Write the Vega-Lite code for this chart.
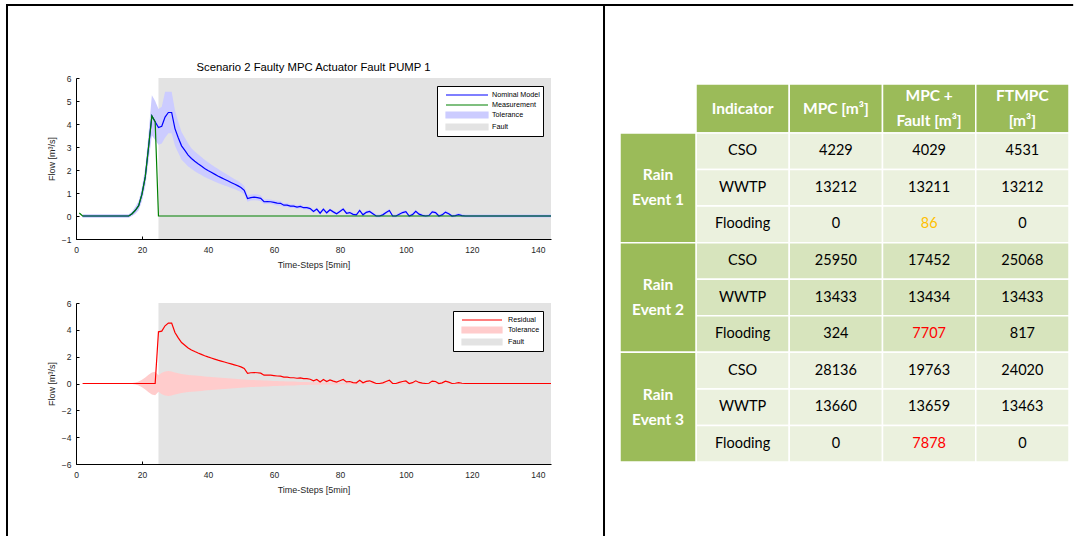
{
"$schema": "https://vega.github.io/schema/vega-lite/v6.json",
"padding": {"left": 5, "top": 3, "right": 0, "bottom": 0},
"background": "white",
"bounds": "flush",
"columns": 2,
"spacing": {"row": 64, "column": 69},
"datasets": {
"fault": [{"start": 25, "end": 144}],
"series": [
{"t":1,"meas":0.13},
{"t":2,"nom":0,"meas":0,"lo":-0.08,"hi":0.08,"res":0,"rlo":0,"rhi":0},
{"t":3,"nom":0,"meas":0,"lo":-0.08,"hi":0.08,"res":0,"rlo":0,"rhi":0},
{"t":4,"nom":0,"meas":0,"lo":-0.08,"hi":0.08,"res":0,"rlo":0,"rhi":0},
{"t":5,"nom":0,"meas":0,"lo":-0.08,"hi":0.08,"res":0,"rlo":0,"rhi":0},
{"t":6,"nom":0,"meas":0,"lo":-0.08,"hi":0.08,"res":0,"rlo":0,"rhi":0},
{"t":7,"nom":0,"meas":0,"lo":-0.08,"hi":0.08,"res":0,"rlo":0,"rhi":0},
{"t":8,"nom":0,"meas":0,"lo":-0.08,"hi":0.08,"res":0,"rlo":0,"rhi":0},
{"t":9,"nom":0,"meas":0,"lo":-0.08,"hi":0.08,"res":0,"rlo":0,"rhi":0},
{"t":10,"nom":0,"meas":0,"lo":-0.08,"hi":0.08,"res":0,"rlo":0,"rhi":0},
{"t":11,"nom":0,"meas":0,"lo":-0.08,"hi":0.08,"res":0,"rlo":0,"rhi":0},
{"t":12,"nom":0,"meas":0,"lo":-0.08,"hi":0.08,"res":0,"rlo":0,"rhi":0},
{"t":13,"nom":0,"meas":0,"lo":-0.08,"hi":0.08,"res":0,"rlo":0,"rhi":0},
{"t":14,"nom":0,"meas":0,"lo":-0.08,"hi":0.08,"res":0,"rlo":0,"rhi":0},
{"t":15,"nom":0,"meas":0,"lo":-0.08,"hi":0.08,"res":0,"rlo":0,"rhi":0},
{"t":16,"nom":0,"meas":0,"lo":-0.08,"hi":0.08,"res":0,"rlo":0,"rhi":0},
{"t":17,"nom":0.1,"meas":0.1,"lo":0,"hi":0.2,"res":0,"rlo":-0.03,"rhi":0.03},
{"t":18,"nom":0.25,"meas":0.25,"lo":0.1,"hi":0.4,"res":0,"rlo":-0.08,"rhi":0.08},
{"t":19,"nom":0.45,"meas":0.45,"lo":0.25,"hi":0.65,"res":0,"rlo":-0.15,"rhi":0.15},
{"t":20,"nom":0.95,"meas":0.95,"lo":0.65,"hi":1.25,"res":0,"rlo":-0.28,"rhi":0.28},
{"t":21,"nom":1.7,"meas":1.7,"lo":1.3,"hi":2.1,"res":0,"rlo":-0.45,"rhi":0.45},
{"t":22,"nom":3.0,"meas":3.0,"lo":2.4,"hi":3.6,"res":0,"rlo":-0.65,"rhi":0.65},
{"t":23,"nom":4.35,"meas":4.35,"lo":3.5,"hi":5.25,"res":0,"rlo":-0.82,"rhi":0.82},
{"t":24,"nom":4.1,"meas":4.1,"lo":3.3,"hi":5.0,"res":0,"rlo":-0.88,"rhi":0.88},
{"t":25,"nom":3.85,"meas":0,"lo":3.1,"hi":4.65,"res":3.85,"rlo":-0.62,"rhi":0.62},
{"t":26,"nom":3.9,"meas":0,"lo":3.15,"hi":4.75,"res":3.9,"rlo":-0.8,"rhi":0.8},
{"t":27,"nom":4.3,"meas":0,"lo":3.4,"hi":5.4,"res":4.3,"rlo":-0.9,"rhi":0.9},
{"t":28,"nom":4.5,"meas":0,"lo":3.6,"hi":5.4,"res":4.5,"rlo":-0.93,"rhi":0.93},
{"t":29,"nom":4.5,"meas":0,"lo":3.6,"hi":5.4,"res":4.5,"rlo":-0.9,"rhi":0.9},
{"t":30,"nom":3.8,"meas":0,"lo":3.05,"hi":4.6,"res":3.8,"rlo":-0.82,"rhi":0.82},
{"t":31,"nom":3.4,"meas":0,"lo":2.75,"hi":4.1,"res":3.4,"rlo":-0.76,"rhi":0.76},
{"t":32,"nom":3.05,"meas":0,"lo":2.45,"hi":3.65,"res":3.05,"rlo":-0.71,"rhi":0.71},
{"t":33,"nom":2.85,"meas":0,"lo":2.3,"hi":3.4,"res":2.85,"rlo":-0.67,"rhi":0.67},
{"t":34,"nom":2.65,"meas":0,"lo":2.15,"hi":3.15,"res":2.65,"rlo":-0.64,"rhi":0.64},
{"t":35,"nom":2.5,"meas":0,"lo":2.05,"hi":2.95,"res":2.5,"rlo":-0.61,"rhi":0.61},
{"t":36,"nom":2.38,"meas":0,"lo":1.95,"hi":2.8,"res":2.38,"rlo":-0.59,"rhi":0.59},
{"t":37,"nom":2.27,"meas":0,"lo":1.86,"hi":2.68,"res":2.27,"rlo":-0.57,"rhi":0.57},
{"t":38,"nom":2.17,"meas":0,"lo":1.78,"hi":2.56,"res":2.17,"rlo":-0.55,"rhi":0.55},
{"t":39,"nom":2.07,"meas":0,"lo":1.7,"hi":2.45,"res":2.07,"rlo":-0.53,"rhi":0.53},
{"t":40,"nom":1.98,"meas":0,"lo":1.63,"hi":2.34,"res":1.98,"rlo":-0.51,"rhi":0.51},
{"t":41,"nom":1.9,"meas":0,"lo":1.56,"hi":2.24,"res":1.9,"rlo":-0.49,"rhi":0.49},
{"t":42,"nom":1.82,"meas":0,"lo":1.5,"hi":2.14,"res":1.82,"rlo":-0.47,"rhi":0.47},
{"t":43,"nom":1.74,"meas":0,"lo":1.44,"hi":2.05,"res":1.74,"rlo":-0.45,"rhi":0.45},
{"t":44,"nom":1.67,"meas":0,"lo":1.38,"hi":1.96,"res":1.67,"rlo":-0.43,"rhi":0.43},
{"t":45,"nom":1.6,"meas":0,"lo":1.33,"hi":1.87,"res":1.6,"rlo":-0.41,"rhi":0.41},
{"t":46,"nom":1.53,"meas":0,"lo":1.28,"hi":1.78,"res":1.53,"rlo":-0.39,"rhi":0.39},
{"t":47,"nom":1.46,"meas":0,"lo":1.22,"hi":1.7,"res":1.46,"rlo":-0.37,"rhi":0.37},
{"t":48,"nom":1.39,"meas":0,"lo":1.17,"hi":1.61,"res":1.39,"rlo":-0.35,"rhi":0.35},
{"t":49,"nom":1.32,"meas":0,"lo":1.11,"hi":1.53,"res":1.32,"rlo":-0.33,"rhi":0.33},
{"t":50,"nom":1.24,"meas":0,"lo":1.04,"hi":1.44,"res":1.24,"rlo":-0.31,"rhi":0.31},
{"t":51,"nom":1.12,"meas":0,"lo":0.94,"hi":1.3,"res":1.12,"rlo":-0.3,"rhi":0.3},
{"t":52,"nom":0.76,"meas":0,"lo":0.62,"hi":0.9,"res":0.76,"rlo":-0.28,"rhi":0.28},
{"t":53,"nom":0.8,"meas":0,"lo":0.67,"hi":0.93,"res":0.8,"rlo":-0.27,"rhi":0.27},
{"t":54,"nom":0.82,"meas":0,"lo":0.69,"hi":0.95,"res":0.82,"rlo":-0.26,"rhi":0.26},
{"t":55,"nom":0.8,"meas":0,"lo":0.67,"hi":0.93,"res":0.8,"rlo":-0.25,"rhi":0.25},
{"t":56,"nom":0.77,"meas":0,"lo":0.64,"hi":0.9,"res":0.77,"rlo":-0.24,"rhi":0.24},
{"t":57,"nom":0.62,"meas":0,"lo":0.52,"hi":0.72,"res":0.62,"rlo":-0.23,"rhi":0.23},
{"t":58,"nom":0.63,"meas":0,"lo":0.53,"hi":0.73,"res":0.63,"rlo":-0.22,"rhi":0.22},
{"t":59,"nom":0.62,"meas":0,"lo":0.52,"hi":0.72,"res":0.62,"rlo":-0.2,"rhi":0.2},
{"t":60,"nom":0.59,"meas":0,"lo":0.49,"hi":0.69,"res":0.59,"rlo":-0.19,"rhi":0.19},
{"t":61,"nom":0.56,"meas":0,"lo":0.46,"hi":0.66,"res":0.56,"rlo":-0.18,"rhi":0.18},
{"t":62,"nom":0.55,"meas":0,"lo":0.45,"hi":0.65,"res":0.55,"rlo":-0.17,"rhi":0.17},
{"t":63,"nom":0.47,"meas":0,"lo":0.39,"hi":0.55,"res":0.47,"rlo":-0.16,"rhi":0.16},
{"t":64,"nom":0.47,"meas":0,"lo":0.39,"hi":0.55,"res":0.47,"rlo":-0.15,"rhi":0.15},
{"t":65,"nom":0.43,"meas":0,"lo":0.35,"hi":0.51,"res":0.43,"rlo":-0.15,"rhi":0.15},
{"t":66,"nom":0.43,"meas":0,"lo":0.35,"hi":0.51,"res":0.43,"rlo":-0.14,"rhi":0.14},
{"t":67,"nom":0.39,"meas":0,"lo":0.31,"hi":0.47,"res":0.39,"rlo":-0.13,"rhi":0.13},
{"t":68,"nom":0.42,"meas":0,"lo":0.34,"hi":0.5,"res":0.42,"rlo":-0.12,"rhi":0.12},
{"t":69,"nom":0.36,"meas":0,"lo":0.28,"hi":0.44,"res":0.36,"rlo":-0.12,"rhi":0.12},
{"t":70,"nom":0.36,"meas":0,"lo":0.28,"hi":0.44,"res":0.36,"rlo":-0.11,"rhi":0.11},
{"t":71,"nom":0.32,"meas":0,"lo":0.25,"hi":0.39,"res":0.32,"rlo":-0.1,"rhi":0.1},
{"t":72,"nom":0.2,"meas":0,"lo":0.13,"hi":0.27,"res":0.2,"rlo":-0.1,"rhi":0.1},
{"t":73,"nom":0.3,"meas":0,"lo":0.23,"hi":0.37,"res":0.3,"rlo":-0.09,"rhi":0.09},
{"t":74,"nom":0.12,"meas":0,"lo":0.05,"hi":0.19,"res":0.12,"rlo":-0.09,"rhi":0.09},
{"t":75,"nom":0.3,"meas":0,"lo":0.23,"hi":0.37,"res":0.3,"rlo":-0.08,"rhi":0.08},
{"t":76,"nom":0.14,"meas":0,"lo":0.07,"hi":0.21,"res":0.14,"rlo":-0.08,"rhi":0.08},
{"t":77,"nom":0.27,"meas":0,"lo":0.2,"hi":0.34,"res":0.27,"rlo":-0.07,"rhi":0.07},
{"t":78,"nom":0.18,"meas":0,"lo":0.11,"hi":0.25,"res":0.18,"rlo":-0.07,"rhi":0.07},
{"t":79,"nom":0.1,"meas":0,"lo":0.03,"hi":0.17,"res":0.1,"rlo":-0.07,"rhi":0.07},
{"t":80,"nom":0.2,"meas":0,"lo":0.13,"hi":0.27,"res":0.2,"rlo":-0.06,"rhi":0.06},
{"t":81,"nom":0.3,"meas":0,"lo":0.23,"hi":0.37,"res":0.3,"rlo":-0.06,"rhi":0.06},
{"t":82,"nom":0.12,"meas":0,"lo":0.05,"hi":0.19,"res":0.12,"rlo":-0.05,"rhi":0.05},
{"t":83,"nom":0.15,"meas":0,"lo":0.08,"hi":0.22,"res":0.15,"rlo":-0.05,"rhi":0.05},
{"t":84,"nom":0.07,"meas":0,"lo":0,"hi":0.14,"res":0.07,"rlo":-0.05,"rhi":0.05},
{"t":85,"nom":0.05,"meas":0,"lo":-0.02,"hi":0.12,"res":0.05,"rlo":-0.05,"rhi":0.05},
{"t":86,"nom":0.24,"meas":0,"lo":0.17,"hi":0.31,"res":0.24,"rlo":-0.04,"rhi":0.04},
{"t":87,"nom":0.05,"meas":0,"lo":-0.02,"hi":0.12,"res":0.05,"rlo":-0.04,"rhi":0.04},
{"t":88,"nom":0.16,"meas":0,"lo":0.09,"hi":0.23,"res":0.16,"rlo":-0.04,"rhi":0.04},
{"t":89,"nom":0.2,"meas":0,"lo":0.13,"hi":0.27,"res":0.2,"rlo":-0.04,"rhi":0.04},
{"t":90,"nom":0.1,"meas":0,"lo":0.03,"hi":0.17,"res":0.1,"rlo":-0.04,"rhi":0.04},
{"t":91,"nom":0,"meas":0,"lo":-0.07,"hi":0.07,"res":0,"rlo":-0.03,"rhi":0.03},
{"t":92,"nom":0,"meas":0,"lo":-0.07,"hi":0.07,"res":0,"rlo":-0.03,"rhi":0.03},
{"t":93,"nom":0.05,"meas":0,"lo":-0.02,"hi":0.12,"res":0.05,"rlo":-0.03,"rhi":0.03},
{"t":94,"nom":0.15,"meas":0,"lo":0.08,"hi":0.22,"res":0.15,"rlo":-0.03,"rhi":0.03},
{"t":95,"nom":0.24,"meas":0,"lo":0.17,"hi":0.31,"res":0.24,"rlo":-0.03,"rhi":0.03},
{"t":96,"nom":0,"meas":0,"lo":-0.07,"hi":0.07,"res":0,"rlo":-0.03,"rhi":0.03},
{"t":97,"nom":0,"meas":0,"lo":-0.07,"hi":0.07,"res":0,"rlo":-0.03,"rhi":0.03},
{"t":98,"nom":0.08,"meas":0,"lo":0.01,"hi":0.15,"res":0.08,"rlo":-0.03,"rhi":0.03},
{"t":99,"nom":0.15,"meas":0,"lo":0.08,"hi":0.22,"res":0.15,"rlo":-0.03,"rhi":0.03},
{"t":100,"nom":0.19,"meas":0,"lo":0.12,"hi":0.26,"res":0.19,"rlo":-0.03,"rhi":0.03},
{"t":101,"nom":0,"meas":0,"lo":-0.07,"hi":0.07,"res":0,"rlo":-0.02,"rhi":0.02},
{"t":102,"nom":0.06,"meas":0,"lo":-0.01,"hi":0.13,"res":0.06,"rlo":-0.02,"rhi":0.02},
{"t":103,"nom":0.2,"meas":0,"lo":0.13,"hi":0.27,"res":0.2,"rlo":-0.02,"rhi":0.02},
{"t":104,"nom":0.08,"meas":0,"lo":0.01,"hi":0.15,"res":0.08,"rlo":-0.02,"rhi":0.02},
{"t":105,"nom":0.03,"meas":0,"lo":-0.04,"hi":0.1,"res":0.03,"rlo":-0.02,"rhi":0.02},
{"t":106,"nom":0,"meas":0,"lo":-0.07,"hi":0.07,"res":0,"rlo":-0.02,"rhi":0.02},
{"t":107,"nom":0.02,"meas":0,"lo":-0.05,"hi":0.09,"res":0.02,"rlo":-0.02,"rhi":0.02},
{"t":108,"nom":0.18,"meas":0,"lo":0.11,"hi":0.25,"res":0.18,"rlo":-0.02,"rhi":0.02},
{"t":109,"nom":0.15,"meas":0,"lo":0.08,"hi":0.22,"res":0.15,"rlo":-0.02,"rhi":0.02},
{"t":110,"nom":0,"meas":0,"lo":-0.07,"hi":0.07,"res":0,"rlo":-0.02,"rhi":0.02},
{"t":111,"nom":0.05,"meas":0,"lo":-0.02,"hi":0.12,"res":0.05,"rlo":-0.01,"rhi":0.01},
{"t":112,"nom":0.17,"meas":0,"lo":0.1,"hi":0.24,"res":0.17,"rlo":-0.01,"rhi":0.01},
{"t":113,"nom":0.1,"meas":0,"lo":0.03,"hi":0.17,"res":0.1,"rlo":-0.01,"rhi":0.01},
{"t":114,"nom":0,"meas":0,"lo":-0.07,"hi":0.07,"res":0,"rlo":-0.01,"rhi":0.01},
{"t":115,"nom":0.02,"meas":0,"lo":-0.05,"hi":0.09,"res":0.02,"rlo":-0.01,"rhi":0.01},
{"t":116,"nom":0.06,"meas":0,"lo":-0.01,"hi":0.13,"res":0.06,"rlo":-0.01,"rhi":0.01},
{"t":117,"nom":0.02,"meas":0,"lo":-0.05,"hi":0.09,"res":0.02,"rlo":-0.01,"rhi":0.01},
{"t":118,"nom":0,"meas":0,"lo":-0.07,"hi":0.07,"res":0,"rlo":-0.01,"rhi":0.01},
{"t":119,"nom":0,"meas":0,"lo":-0.07,"hi":0.07,"res":0,"rlo":0,"rhi":0},
{"t":120,"nom":0,"meas":0,"lo":-0.07,"hi":0.07,"res":0,"rlo":0,"rhi":0},
{"t":121,"nom":0,"meas":0,"lo":-0.07,"hi":0.07,"res":0,"rlo":0,"rhi":0},
{"t":122,"nom":0,"meas":0,"lo":-0.07,"hi":0.07,"res":0,"rlo":0,"rhi":0},
{"t":123,"nom":0,"meas":0,"lo":-0.07,"hi":0.07,"res":0,"rlo":0,"rhi":0},
{"t":124,"nom":0,"meas":0,"lo":-0.07,"hi":0.07,"res":0,"rlo":0,"rhi":0},
{"t":125,"nom":0,"meas":0,"lo":-0.07,"hi":0.07,"res":0,"rlo":0,"rhi":0},
{"t":126,"nom":0,"meas":0,"lo":-0.07,"hi":0.07,"res":0,"rlo":0,"rhi":0},
{"t":127,"nom":0,"meas":0,"lo":-0.07,"hi":0.07,"res":0,"rlo":0,"rhi":0},
{"t":128,"nom":0,"meas":0,"lo":-0.07,"hi":0.07,"res":0,"rlo":0,"rhi":0},
{"t":129,"nom":0,"meas":0,"lo":-0.07,"hi":0.07,"res":0,"rlo":0,"rhi":0},
{"t":130,"nom":0,"meas":0,"lo":-0.07,"hi":0.07,"res":0,"rlo":0,"rhi":0},
{"t":131,"nom":0,"meas":0,"lo":-0.07,"hi":0.07,"res":0,"rlo":0,"rhi":0},
{"t":132,"nom":0,"meas":0,"lo":-0.07,"hi":0.07,"res":0,"rlo":0,"rhi":0},
{"t":133,"nom":0,"meas":0,"lo":-0.07,"hi":0.07,"res":0,"rlo":0,"rhi":0},
{"t":134,"nom":0,"meas":0,"lo":-0.07,"hi":0.07,"res":0,"rlo":0,"rhi":0},
{"t":135,"nom":0,"meas":0,"lo":-0.07,"hi":0.07,"res":0,"rlo":0,"rhi":0},
{"t":136,"nom":0,"meas":0,"lo":-0.07,"hi":0.07,"res":0,"rlo":0,"rhi":0},
{"t":137,"nom":0,"meas":0,"lo":-0.07,"hi":0.07,"res":0,"rlo":0,"rhi":0},
{"t":138,"nom":0,"meas":0,"lo":-0.07,"hi":0.07,"res":0,"rlo":0,"rhi":0},
{"t":139,"nom":0,"meas":0,"lo":-0.07,"hi":0.07,"res":0,"rlo":0,"rhi":0},
{"t":140,"nom":0,"meas":0,"lo":-0.07,"hi":0.07,"res":0,"rlo":0,"rhi":0},
{"t":141,"nom":0,"meas":0,"lo":-0.07,"hi":0.07,"res":0,"rlo":0,"rhi":0},
{"t":142,"nom":0,"meas":0,"lo":-0.07,"hi":0.07,"res":0,"rlo":0,"rhi":0},
{"t":143,"nom":0,"meas":0,"lo":-0.07,"hi":0.07,"res":0,"rlo":0,"rhi":0},
{"t":144,"nom":0,"meas":0,"lo":-0.07,"hi":0.07,"res":0,"rlo":0,"rhi":0}
],
"header": [
{"key":"H","col":"Indicator","label":"Indicator"},
{"key":"H","col":"MPC","label":"MPC [m³]"},
{"key":"H","col":"MPCF","label":"MPC +\nFault [m³]"},
{"key":"H","col":"FTMPC","label":"FTMPC\n[m³]"}
],
"rows": [
{"key":"E1 CSO","event":"Rain Event 1","Indicator":"CSO","MPC":4229,"MPCF":4029,"FTMPC":4531,"flag":"normal"},
{"key":"E1 WWTP","event":"Rain Event 1","Indicator":"WWTP","MPC":13212,"MPCF":13211,"FTMPC":13212,"flag":"normal"},
{"key":"E1 Flooding","event":"Rain Event 1","Indicator":"Flooding","MPC":0,"MPCF":86,"FTMPC":0,"flag":"moderate"},
{"key":"E2 CSO","event":"Rain Event 2","Indicator":"CSO","MPC":25950,"MPCF":17452,"FTMPC":25068,"flag":"normal"},
{"key":"E2 WWTP","event":"Rain Event 2","Indicator":"WWTP","MPC":13433,"MPCF":13434,"FTMPC":13433,"flag":"normal"},
{"key":"E2 Flooding","event":"Rain Event 2","Indicator":"Flooding","MPC":324,"MPCF":7707,"FTMPC":817,"flag":"severe"},
{"key":"E3 CSO","event":"Rain Event 3","Indicator":"CSO","MPC":28136,"MPCF":19763,"FTMPC":24020,"flag":"normal"},
{"key":"E3 WWTP","event":"Rain Event 3","Indicator":"WWTP","MPC":13660,"MPCF":13659,"FTMPC":13463,"flag":"normal"},
{"key":"E3 Flooding","event":"Rain Event 3","Indicator":"Flooding","MPC":0,"MPCF":7878,"FTMPC":0,"flag":"severe"}
],
"groups": [
{"col":"Group","event":"Rain Event 1","first":"E1 CSO","mid":"E1 WWTP","last":"E1 Flooding","label":"Rain\nEvent 1"},
{"col":"Group","event":"Rain Event 2","first":"E2 CSO","mid":"E2 WWTP","last":"E2 Flooding","label":"Rain\nEvent 2"},
{"col":"Group","event":"Rain Event 3","first":"E3 CSO","mid":"E3 WWTP","last":"E3 Flooding","label":"Rain\nEvent 3"}
]
},
"concat": [
{
"width": 475, "height": 161,
"title": {"text": "Scenario 2 Faulty MPC Actuator Fault PUMP 1", "fontSize": 11.3, "fontWeight": "normal", "font": "Liberation Sans", "color": "#000000", "offset": 1, "frame": "group", "anchor": "middle"},
"layer": [
{"data": {"name": "fault"}, "mark": {"type": "rect", "opacity": 1},
 "encoding": {
  "x": {"field": "start", "type": "quantitative", "scale": {"domain": [0, 144], "nice": false, "zero": false}, "axis": {"title": "Time-Steps [5min]", "values": [0,20,40,60,80,100,120,140], "labelOverlap": false}},
  "x2": {"field": "end"},
  "y": {"datum": 6, "type": "quantitative", "scale": {"domain": [-1, 6], "nice": false, "zero": false}, "axis": {"title": "Flow [m³/s]", "values": [-1,0,1,2,3,4,5,6], "labelOverlap": false}},
  "y2": {"datum": -1},
  "color": {"datum": "Fault", "type": "nominal",
   "scale": {"domain": ["Nominal Model", "Measurement", "Tolerance", "Fault"], "range": ["#0000ff", "#008000", "#ccccff", "#e3e3e3"]},
   "legend": {"title": null,
    "encoding": {"symbols": {
     "shape": {"value": {"expr": "datum.value === 'Tolerance' || datum.value === 'Fault' ? 'M0,-0.6H8.4V0.6H0Z' : 'M0,0H8.4'"}},
     "fill": {"value": {"expr": "datum.value === 'Tolerance' ? '#ccccff' : datum.value === 'Fault' ? '#e3e3e3' : 'transparent'"}},
     "stroke": {"value": {"expr": "datum.value === 'Nominal Model' ? '#0000ff' : datum.value === 'Measurement' ? '#008000' : 'transparent'"}},
     "strokeWidth": {"value": 1.2},
     "opacity": {"value": 1},
     "fillOpacity": {"value": 1},
     "strokeOpacity": {"value": 1}
    }}}}
 }},
{"data": {"name": "series"}, "mark": {"type": "area", "opacity": 1},
 "encoding": {
  "x": {"field": "t", "type": "quantitative", "axis": {"title": "Time-Steps [5min]", "values": [0,20,40,60,80,100,120,140], "labelOverlap": false}},
  "y": {"field": "lo", "type": "quantitative", "axis": {"title": "Flow [m³/s]", "values": [-1,0,1,2,3,4,5,6], "labelOverlap": false}},
  "y2": {"field": "hi"},
  "color": {"datum": "Tolerance", "type": "nominal"}
 }},
{"data": {"name": "series"}, "mark": {"type": "line", "strokeWidth": 1.2},
 "encoding": {
  "x": {"field": "t", "type": "quantitative", "axis": {"title": "Time-Steps [5min]", "values": [0,20,40,60,80,100,120,140], "labelOverlap": false}},
  "y": {"field": "nom", "type": "quantitative", "axis": {"title": "Flow [m³/s]", "values": [-1,0,1,2,3,4,5,6], "labelOverlap": false}},
  "color": {"datum": "Nominal Model", "type": "nominal"}
 }},
{"data": {"name": "series"}, "mark": {"type": "line", "strokeWidth": 1.2},
 "encoding": {
  "x": {"field": "t", "type": "quantitative", "axis": {"title": "Time-Steps [5min]", "values": [0,20,40,60,80,100,120,140], "labelOverlap": false}},
  "y": {"field": "meas", "type": "quantitative", "axis": {"title": "Flow [m³/s]", "values": [-1,0,1,2,3,4,5,6], "labelOverlap": false}},
  "color": {"datum": "Measurement", "type": "nominal"}
 }}
]
},
{
"width": 449, "height": 161,
"resolve": {"scale": {"x": "independent", "y": "independent", "color": "independent", "fill": "independent"}},
"layer": [
{
"data": {"name": "header"},
"encoding": {
 "x": {"field": "col", "type": "nominal", "scale": {"domain": ["Indicator", "MPC", "MPCF", "FTMPC"], "range": [76, 449], "paddingInner": 0, "paddingOuter": 0}, "axis": null},
 "y": {"field": "key", "type": "nominal", "scale": {"domain": ["H"], "range": [6, 55], "paddingInner": 0, "paddingOuter": 0}, "axis": null}
},
"layer": [
{"mark": {"type": "rect", "fill": "#9bbb59", "stroke": "#ffffff", "strokeWidth": 1.5}},
{"transform": [{"filter": "indexof(datum.label, '\\n') < 0"}],
 "mark": {"type": "text", "fill": "#ffffff", "font": "Lato", "fontSize": 15.5, "fontWeight": "bold", "baseline": "middle"},
 "encoding": {"text": {"field": "label", "type": "nominal"}}},
{"transform": [{"filter": "indexof(datum.label, '\\n') >= 0"}],
 "mark": {"type": "text", "fill": "#ffffff", "font": "Lato", "fontSize": 15.5, "fontWeight": "bold", "lineBreak": "\n", "lineHeight": 25, "baseline": "middle", "dy": -12.5},
 "encoding": {"text": {"field": "label", "type": "nominal"}}}
]
},
{
"data": {"name": "rows"},
"transform": [{"fold": ["Indicator", "MPC", "MPCF", "FTMPC"], "as": ["col", "val"]}],
"encoding": {
 "x": {"field": "col", "type": "nominal", "scale": {"domain": ["Indicator", "MPC", "MPCF", "FTMPC"], "range": [76, 449], "paddingInner": 0, "paddingOuter": 0}, "axis": null},
 "y": {"field": "key", "type": "nominal", "scale": {"domain": ["E1 CSO","E1 WWTP","E1 Flooding","E2 CSO","E2 WWTP","E2 Flooding","E3 CSO","E3 WWTP","E3 Flooding"], "range": [55, 384], "paddingInner": 0, "paddingOuter": 0}, "axis": null}
},
"layer": [
{"mark": {"type": "rect", "stroke": "#ffffff", "strokeWidth": 1.5},
 "encoding": {"fill": {"field": "event", "type": "nominal", "scale": {"domain": ["Rain Event 1", "Rain Event 2", "Rain Event 3"], "range": ["#ebf1de", "#d7e4bd", "#ebf1de"]}, "legend": null}}},
{"mark": {"type": "text", "font": "Lato", "fontSize": 14.5, "baseline": "middle"},
 "encoding": {
  "text": {"field": "val", "type": "nominal"},
  "color": {"condition": {"test": "datum.col === 'MPCF'", "field": "flag", "type": "nominal", "scale": {"domain": ["normal", "moderate", "severe"], "range": ["#000000", "#ffc000", "#ff0000"]}, "legend": null}, "value": "#000000"}
 }}
]
},
{
"data": {"name": "groups"},
"encoding": {
 "x": {"field": "col", "type": "nominal", "scale": {"domain": ["Group"], "range": [0, 76], "paddingInner": 0, "paddingOuter": 0}, "axis": null}
},
"layer": [
{"mark": {"type": "rect", "fill": "#9bbb59", "stroke": "#ffffff", "strokeWidth": 1.5},
 "encoding": {
  "y": {"field": "first", "type": "nominal", "bandPosition": 0, "scale": {"domain": ["E1 CSO","E1 WWTP","E1 Flooding","E2 CSO","E2 WWTP","E2 Flooding","E3 CSO","E3 WWTP","E3 Flooding"], "range": [55, 384], "paddingInner": 0, "paddingOuter": 0}, "axis": null},
  "y2": {"field": "last", "bandPosition": 1}
 }},
{"mark": {"type": "text", "fill": "#ffffff", "font": "Lato", "fontSize": 15.5, "fontWeight": "bold", "lineBreak": "\n", "lineHeight": 25, "baseline": "middle", "dy": -12.5},
 "encoding": {
  "y": {"field": "mid", "type": "nominal", "axis": null},
  "text": {"field": "label", "type": "nominal"}
 }}
]
}
]
},
{
"width": 475, "height": 161,
"layer": [
{"data": {"name": "fault"}, "mark": {"type": "rect", "opacity": 1},
 "encoding": {
  "x": {"field": "start", "type": "quantitative", "scale": {"domain": [0, 144], "nice": false, "zero": false}, "axis": {"title": "Time-Steps [5min]", "values": [0,20,40,60,80,100,120,140], "labelOverlap": false}},
  "x2": {"field": "end"},
  "y": {"datum": 6, "type": "quantitative", "scale": {"domain": [-6, 6], "nice": false, "zero": false}, "axis": {"title": "Flow [m³/s]", "values": [-6,-4,-2,0,2,4,6], "labelOverlap": false}},
  "y2": {"datum": -6},
  "color": {"datum": "Fault", "type": "nominal",
   "scale": {"domain": ["Residual", "Tolerance", "Fault"], "range": ["#ff0000", "#ffcccc", "#e3e3e3"]},
   "legend": {"title": null,
    "encoding": {"symbols": {
     "shape": {"value": {"expr": "datum.value === 'Residual' ? 'M0,0H8' : 'M0,-0.6H8V0.6H0Z'"}},
     "fill": {"value": {"expr": "datum.value === 'Tolerance' ? '#ffcccc' : datum.value === 'Fault' ? '#e3e3e3' : 'transparent'"}},
     "stroke": {"value": {"expr": "datum.value === 'Residual' ? '#ff0000' : 'transparent'"}},
     "strokeWidth": {"value": 1.2},
     "opacity": {"value": 1},
     "fillOpacity": {"value": 1},
     "strokeOpacity": {"value": 1}
    }}}}
 }},
{"data": {"name": "series"}, "mark": {"type": "area", "opacity": 1},
 "encoding": {
  "x": {"field": "t", "type": "quantitative", "axis": {"title": "Time-Steps [5min]", "values": [0,20,40,60,80,100,120,140], "labelOverlap": false}},
  "y": {"field": "rlo", "type": "quantitative", "axis": {"title": "Flow [m³/s]", "values": [-6,-4,-2,0,2,4,6], "labelOverlap": false}},
  "y2": {"field": "rhi"},
  "color": {"datum": "Tolerance", "type": "nominal"}
 }},
{"data": {"name": "series"}, "mark": {"type": "line", "strokeWidth": 1.2},
 "encoding": {
  "x": {"field": "t", "type": "quantitative", "axis": {"title": "Time-Steps [5min]", "values": [0,20,40,60,80,100,120,140], "labelOverlap": false}},
  "y": {"field": "res", "type": "quantitative", "axis": {"title": "Flow [m³/s]", "values": [-6,-4,-2,0,2,4,6], "labelOverlap": false}},
  "color": {"datum": "Residual", "type": "nominal"}
 }},
{"data": {"name": "fault"}, "mark": {"type": "rule", "color": "#000000", "strokeWidth": 2, "strokeCap": "square"},
 "encoding": {"x": {"datum": -20.918, "type": "quantitative", "axis": {"title": "Time-Steps [5min]", "values": [0,20,40,60,80,100,120,140], "labelOverlap": false}}, "x2": {"datum": 302.0}, "y": {"datum": 28.211, "type": "quantitative", "axis": {"title": "Flow [m³/s]", "values": [-6,-4,-2,0,2,4,6], "labelOverlap": false}}}},
{"data": {"name": "fault"}, "mark": {"type": "rule", "color": "#000000", "strokeWidth": 2, "strokeCap": "square"},
 "encoding": {"x": {"datum": -20.918, "type": "quantitative", "axis": {"title": "Time-Steps [5min]", "values": [0,20,40,60,80,100,120,140], "labelOverlap": false}}, "y": {"datum": 28.211, "type": "quantitative", "axis": {"title": "Flow [m³/s]", "values": [-6,-4,-2,0,2,4,6], "labelOverlap": false}}, "y2": {"datum": -11.292}}},
{"data": {"name": "fault"}, "mark": {"type": "rule", "color": "#000000", "strokeWidth": 2, "strokeCap": "square"},
 "encoding": {"x": {"datum": 160.07, "type": "quantitative", "axis": {"title": "Time-Steps [5min]", "values": [0,20,40,60,80,100,120,140], "labelOverlap": false}}, "y": {"datum": 28.211, "type": "quantitative", "axis": {"title": "Flow [m³/s]", "values": [-6,-4,-2,0,2,4,6], "labelOverlap": false}}, "y2": {"datum": -11.292}}}
]
}
],
"resolve": {"scale": {"x": "independent", "y": "independent", "color": "independent", "fill": "independent"}, "legend": {"color": "independent"}},
"config": {
"view": {"stroke": null},
"font": "Liberation Sans",
"axis": {"grid": false, "domainColor": "#000000", "tickColor": "#000000", "tickSize": -3, "labelFont": "Liberation Sans", "labelFontSize": 8.5, "labelColor": "#262626", "titleFont": "Liberation Sans", "titleFontSize": 9, "titleFontWeight": "normal", "titleColor": "#262626", "labelFlush": false, "labelOverlap": false},
"axisX": {"labelPadding": 9, "titlePadding": 7},
"axisY": {"labelPadding": 8, "titlePadding": 5},
"legend": {"orient": "top-right", "offset": 8, "padding": 3, "strokeColor": "#000000", "fillColor": "#ffffff", "labelFont": "Liberation Sans", "labelFontSize": 7.2, "labelColor": "#000000", "symbolSize": 100, "labelOffset": 40, "rowPadding": 0}
}
}
